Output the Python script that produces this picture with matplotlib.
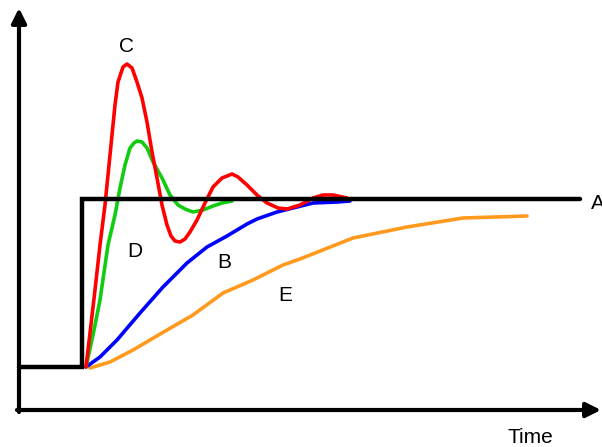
import matplotlib
matplotlib.use("Agg")
import matplotlib.pyplot as plt

plt.rcParams['font.family'] = ['Liberation Sans', 'DejaVu Sans']

# Data in picture units (x: time to the right, y: downward screen units)
step_x = [19, 82, 82, 580]
step_y = [367, 367, 199, 199]

red_x = [86, 90, 95, 100, 105, 110, 115, 118, 123, 127, 132, 137, 142, 147, 152, 157, 162, 167, 171, 175, 180,
         185, 190, 197, 205, 213, 222, 232, 238, 247, 257, 267, 278, 287, 300, 313, 323, 333, 347]
red_y = [367, 333, 290, 245, 205, 155, 105, 82, 67, 64, 68, 82, 98, 122, 152, 178, 205, 225, 236, 241, 242,
         239, 232, 220, 203, 187, 178, 174, 177, 185, 195, 203, 208, 209, 205, 198, 195, 195, 198]

green_x = [86, 93, 100, 108, 115, 120, 125, 130, 134, 137, 142, 147, 153, 162, 170, 178, 185, 193, 203, 213, 222, 232]
green_y = [367, 335, 300, 245, 215, 188, 165, 148, 143, 141, 142, 148, 162, 178, 195, 205, 209, 212, 210, 206, 203, 201]

blue_x = [86, 100, 117, 140, 163, 187, 207, 227, 247, 257, 277, 293, 313, 337, 350]
blue_y = [367, 357, 340, 313, 287, 263, 247, 236, 224, 219, 212, 208, 203, 202, 201]

orange_x = [90, 110, 133, 167, 193, 223, 253, 283, 300, 353, 407, 463, 527]
orange_y = [368, 362, 350, 330, 315, 293, 280, 265, 259, 238, 227, 218, 216]

labels = ["A", "B", "C", "D", "E", "Time"]
label_x = [591, 224.5, 127, 135, 285, 530]
label_y = [209, 268, 51.5, 257, 301, 443]

fig = plt.figure(figsize=(6.02, 4.47), dpi=100)
ax = fig.add_axes([0, 0, 1, 1])
ax.set_xlim(0, 602)
ax.set_ylim(447, 0)
ax.axis('off')

# axes with arrows
ax.annotate('', xy=(19, 8), xytext=(19, 412),
            arrowprops=dict(arrowstyle='-|>', lw=3, color='black', mutation_scale=22, shrinkA=0, shrinkB=0))
ax.annotate('', xy=(601, 410), xytext=(17, 410),
            arrowprops=dict(arrowstyle='-|>', lw=3, color='black', mutation_scale=22, shrinkA=0, shrinkB=0))

kw = dict(lw=2.6, solid_capstyle='round', solid_joinstyle='round')
ax.plot(orange_x, orange_y, color='#ff9a1e', **kw)
ax.plot(blue_x, blue_y, color='#0000ff', **kw)
ax.plot(green_x, green_y, color='#11cc11', **kw)
ax.plot(red_x, red_y, color='#ff0000', **kw)
ax.plot(step_x, step_y, color='black', lw=3.2, solid_capstyle='round', solid_joinstyle='miter')

for t, x, y in zip(labels, label_x, label_y):
    ha = 'left' if t == 'A' else 'center'
    ax.text(x, y, t, fontsize=15, ha=ha, va='baseline', color='black')

fig.savefig('out.png', dpi=100)
